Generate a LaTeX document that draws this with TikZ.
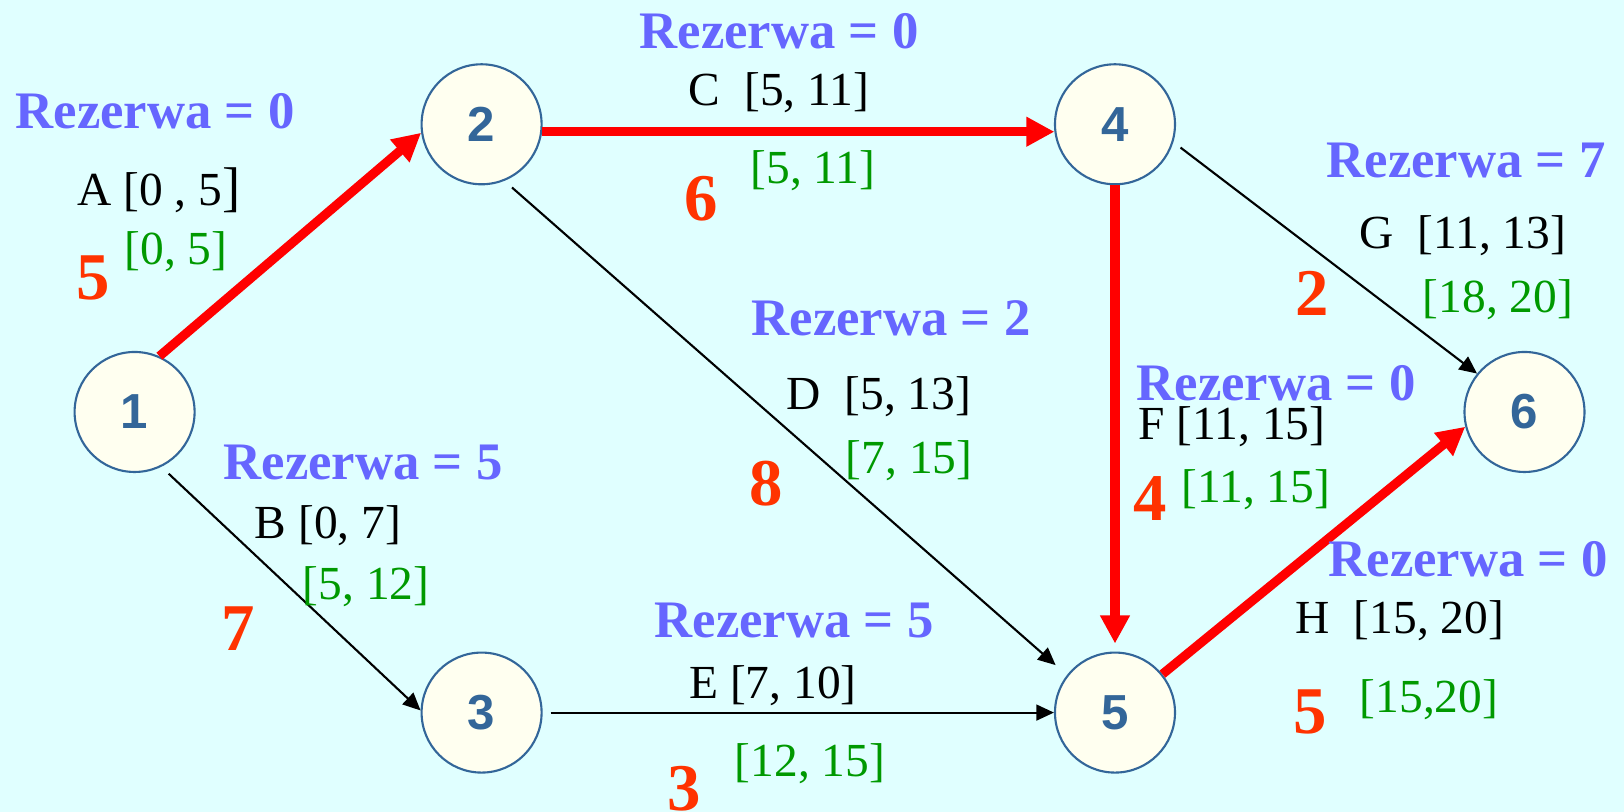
\documentclass[tikz,border=0pt]{standalone}
\usepackage{fontspec}
\setmainfont{Liberation Serif}
\newfontfamily\numfont{Liberation Sans}
\usepackage{xcolor}
\usetikzlibrary{arrows.meta}

\definecolor{bgcyan}{HTML}{E0FFFF}
\definecolor{nodefill}{HTML}{FFFFF0}
\definecolor{nodeblue}{HTML}{336699}
\definecolor{rezblue}{HTML}{6666FF}
\definecolor{latgreen}{HTML}{009900}
\definecolor{durred}{HTML}{FF3300}
\definecolor{critred}{HTML}{FF0000}

\tikzset{
  event/.style={draw=nodeblue, line width=0.6pt, circle, minimum size=1.2cm, inner sep=0pt,
    fill=nodefill, text=nodeblue, font=\numfont\bfseries\fontsize{14pt}{16pt}\selectfont},
  rez/.style={text=rezblue, font=\bfseries\fontsize{15pt}{17pt}\selectfont, inner sep=0pt},
  act/.style={text=black, font=\fontsize{13.5pt}{16pt}\selectfont, inner sep=0pt},
  late/.style={text=latgreen, font=\fontsize{13.5pt}{16pt}\selectfont, inner sep=0pt},
  dur/.style={text=durred, font=\bfseries\fontsize{19pt}{21pt}\selectfont, inner sep=0pt},
  crit/.style={critred, line width=2.6pt, -{Triangle[length=8pt,width=8pt]}},
  plain/.style={black, line width=0.6pt, -{Triangle[length=5pt,width=4.5pt]}}
}

\begin{document}
\begin{tikzpicture}
      \fill[bgcyan] (0, 0) rectangle (16.24, 8.12);
      \useasboundingbox (0, 0) rectangle (16.24, 8.12);

      % Nodes
      \node[event] (n1) at (1.346, 4.00) {1};
      \node[event] (n2) at (4.816, 6.877) {2};
      \node[event] (n3) at (4.816, 0.994) {3};
      \node[event] (n4) at (11.15, 6.877) {4};
      \node[event] (n5) at (11.15, 0.994) {5};
      \node[event] (n6) at (15.245, 4.00) {6};

      % Edges
      \draw[crit] (n1.66) -- (n2.188);
      \draw[crit] (n2.-7) -- (n4.187);
      \draw[crit, shorten >=0.08cm] (n4.south) -- (n5.north);
      \draw[crit] (n5.39) -- (n6.194);
      \draw[plain, shorten <=0.1cm] (n1.-64) -- (n3.178);
      \draw[plain, shorten <=0.1cm, shorten >=0.15cm] (n2.-68) -- (n5.142);
      \draw[plain, shorten <=0.08cm] (n3.east) -- (n5.west);
      \draw[plain, shorten <=0.09cm] (n4.-17) -- (n6.141);

      % Activity A
      \node[rez] (rezA) at (1.55, 7.01) {Rezerwa = 0};
      \node[act] (actA) at (1.59, 6.22) {A [0 , 5{\fontsize{15.5pt}{16pt}\selectfont]}};
      \node[dur] (durA) at (0.93, 5.34) {5};
      \node[late] (latA) at (1.76, 5.60) {[0, 5]};

      % Activity B
      \node[rez] (rezB) at (3.63, 3.49) {Rezerwa = 5};
      \node[act] (actB) at (3.28, 2.86) {B [0, 7]};
      \node[dur] (durB) at (2.38, 1.83) {7};
      \node[late] (latB) at (3.66, 2.25) {[5, 12]};

      % Activity C
      \node[rez] (rezC) at (7.79, 7.81) {Rezerwa = 0};
      \node[act] (actC) at (7.79, 7.19) {C\ \ [5, 11]};
      \node[dur] (durC) at (7.01, 6.13) {6};
      \node[late] (latC) at (8.13, 6.41) {[5, 11]};

      % Activity D
      \node[rez] (rezD) at (8.91, 4.94) {Rezerwa = 2};
      \node[act] (actD) at (8.79, 4.15) {D\ \ [5, 13]};
      \node[dur] (durD) at (7.66, 3.28) {8};
      \node[late] (latD) at (9.09, 3.51) {[7, 15]};

      % Activity E
      \node[rez] (rezE) at (7.94, 1.91) {Rezerwa = 5};
      \node[act] (actE) at (7.73, 1.26) {E [7, 10]};
      \node[dur] (durE) at (6.84, 0.23) {3};
      \node[late] (latE) at (8.10, 0.48) {[12, 15]};

      % Activity F
      \node[rez] (rezF) at (12.76, 4.29) {Rezerwa = 0};
      \node[act] (actF) at (12.32, 3.85) {F [11, 15]};
      \node[dur] (durF) at (11.50, 3.13) {4};
      \node[late] (latF) at (12.56, 3.22) {[11, 15]};

      % Activity G
      \node[rez] (rezG) at (14.66, 6.51) {Rezerwa = 7};
      \node[act] (actG) at (14.63, 5.76) {G\ \ [11, 13]};
      \node[dur] (durG) at (13.12, 5.19) {2};
      \node[late] (latG) at (14.98, 5.12) {[18, 20]};

      % Activity H
      \node[rez] (rezH) at (14.68, 2.53) {Rezerwa = 0};
      \node[act] (actH) at (14.00, 1.91) {H\ \ [15, 20]};
      \node[dur] (durH) at (13.10, 1.00) {5};
      \node[late] (latH) at (14.29, 1.12) {[15,20]};
\end{tikzpicture}
\end{document}
